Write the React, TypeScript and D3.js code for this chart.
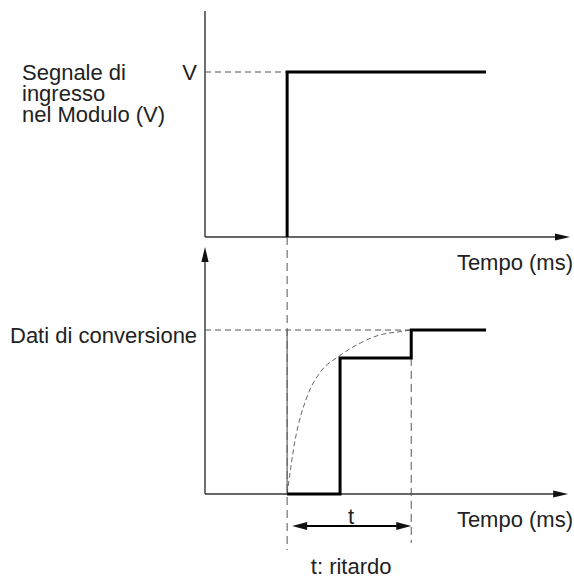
import React from "react";
import { scaleLinear, line, curveStepAfter, curveMonotoneX } from "d3";

// time in arbitrary units along both x axes
const onset = 2.25;
const inputSignal = [
  { t: 2.25, v: 0 },
  { t: 2.25, v: 1 },
  { t: 7.7, v: 1 },
];
const conversionData = [
  { t: 2.25, v: 0 },
  { t: 3.7, v: 0.83 },
  { t: 5.65, v: 1 },
  { t: 7.7, v: 1 },
];
const idealResponse = [
  { t: 2.25, v: 0 },
  { t: 2.47, v: 0.33 },
  { t: 2.79, v: 0.59 },
  { t: 3.15, v: 0.74 },
  { t: 3.67, v: 0.84 },
  { t: 4.25, v: 0.92 },
  { t: 4.79, v: 0.97 },
  { t: 5.34, v: 0.99 },
  { t: 5.64, v: 1 },
];
const delayEnd = 5.65;
const topLabel = ["Segnale di", "ingresso", "nel Modulo (V)"];
const bottomLabel = "Dati di conversione";
const xLabel = "Tempo (ms)";

const W = 574;
const H = 577;
const FONT = "'Liberation Sans', Arial, Helvetica, sans-serif";
const AXIS = "#333";
const FS = 22;

function Arrow({ x, y, dir, len = 15, half = 3.6 }) {
  // filled arrowhead, tip at (x, y)
  let pts;
  if (dir === "right") pts = [[x, y], [x - len, y - half], [x - len, y + half]];
  else if (dir === "left") pts = [[x, y], [x + len, y - half], [x + len, y + half]];
  else pts = [[x, y], [x - half, y + len], [x + half, y + len]];
  return <polygon points={pts.map((p) => p.join(",")).join(" ")} fill="#111" />;
}

export default function App() {
  const x = scaleLinear().domain([0, 10]).range([205, 570]);
  const yTop = scaleLinear().domain([0, 1]).range([237, 72]);
  const yBot = scaleLinear().domain([0, 1]).range([494, 330]);

  const stepTop = line<any>().x((d) => x(d.t)).y((d) => yTop(d.v)).curve(curveStepAfter);
  const stepBot = line<any>().x((d) => x(d.t)).y((d) => yBot(d.v)).curve(curveStepAfter);
  const curve = line<any>().x((d) => x(d.t)).y((d) => yBot(d.v)).curve(curveMonotoneX);

  const x0 = x(0);
  const xOn = x(onset);
  const xEnd = x(delayEnd);
  const dash = "6,4";

  return (
    <svg width={W} height={H} style={{ position: "absolute", left: 0, top: 0, background: "#fff" }}>
      <g fontFamily={FONT} fill="#222">
        {/* top panel axes */}
        <line x1={x0} x2={x0} y1={11} y2={yTop(0)} stroke={AXIS} strokeWidth={1.4} />
        <line x1={x0} x2={x(10) - 10} y1={yTop(0)} y2={yTop(0)} stroke={AXIS} strokeWidth={1.4} />
        <Arrow x={x(10)} y={yTop(0)} dir="right" />

        {/* bottom panel axes */}
        <line x1={x0} x2={x0} y1={255} y2={yBot(0)} stroke={AXIS} strokeWidth={1.4} />
        <Arrow x={x0} y={247} dir="up" />
        <line x1={x0} x2={x(10) - 10} y1={yBot(0)} y2={yBot(0)} stroke={AXIS} strokeWidth={1.4} />
        <Arrow x={x(9.95)} y={yBot(0)} dir="right" />

        {/* dashed guides */}
        <line x1={x0} x2={xOn} y1={yTop(1)} y2={yTop(1)} stroke="#555" strokeWidth={1} strokeDasharray={dash} />
        <line x1={x0} x2={xEnd} y1={yBot(1)} y2={yBot(1)} stroke="#555" strokeWidth={1} strokeDasharray={dash} />
        <line x1={xOn} x2={xOn} y1={yTop(0)} y2={550} stroke="#555" strokeWidth={1} strokeDasharray="8,5" />
        <line x1={xEnd} x2={xEnd} y1={yBot(0.83)} y2={543} stroke="#555" strokeWidth={1} strokeDasharray="8,5" />
        <line x1={xOn} x2={xOn} y1={yBot(1)} y2={yBot(0)} stroke="#666" strokeWidth={1.2} />

        {/* ideal response curve */}
        <path d={curve(idealResponse)} fill="none" stroke="#555" strokeWidth={0.9} strokeDasharray="5,3" />

        {/* signals */}
        <path d={stepTop(inputSignal)} fill="none" stroke="#000" strokeWidth={3} />
        <path d={stepBot(conversionData)} fill="none" stroke="#000" strokeWidth={3} />

        {/* delay dimension */}
        <line x1={xOn + 12} x2={xEnd - 12} y1={526} y2={526} stroke="#000" strokeWidth={2} />
        <Arrow x={xOn + 5} y={526} dir="left" len={15} half={4} />
        <Arrow x={xEnd} y={526} dir="right" len={15} half={4} />
        <text x={(xOn + xEnd) / 2 + 2} y={524} textAnchor="middle" fontSize={FS}>t</text>
        <text x={(xOn + xEnd) / 2 + 2} y={574} textAnchor="middle" fontSize={FS}>t: ritardo</text>

        {/* labels */}
        <text x={197} y={80} textAnchor="end" fontSize={FS}>V</text>
        {topLabel.map((s, i) => (
          <text key={s} x={22} y={80 + i * 21} fontSize={FS}>{s}</text>
        ))}
        <text x={10} y={343} fontSize={FS}>{bottomLabel}</text>
        <text x={573} y={270} textAnchor="end" fontSize={FS}>{xLabel}</text>
        <text x={573} y={527} textAnchor="end" fontSize={FS}>{xLabel}</text>
      </g>
    </svg>
  );
}
